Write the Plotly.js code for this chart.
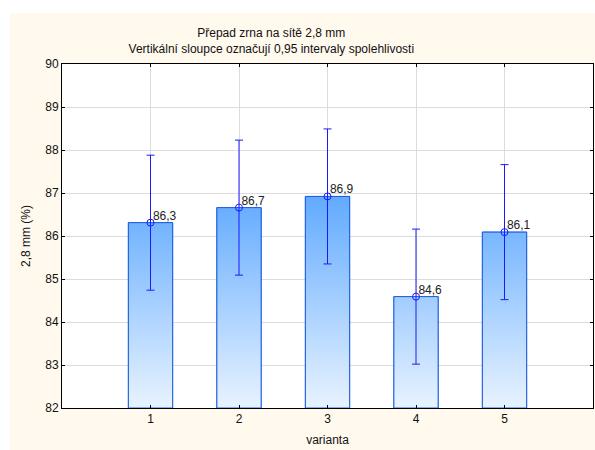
<!DOCTYPE html>
<html>
<head>
<meta charset="utf-8">
<script src="https://cdn.plot.ly/plotly-3.0.1.min.js"></script>
<style>html,body{margin:0;padding:0;background:#fff;}#chart{width:595px;height:450px;}</style>
</head>
<body>
<div id="chart"></div>
<script>
const categories = [1, 2, 3, 4, 5];
const tickLabels = ["1", "2", "3", "4", "5"];
const means = [86.31, 86.66, 86.92, 84.59, 86.09];
const ciHalf = [1.57, 1.57, 1.57, 1.57, 1.57];
const yBase = 82;

const barHalfWidth = 0.25;
// gradient-filled bar bodies built from the data values
const polyX = [], polyY = [];
categories.forEach((c, i) => {
  polyX.push(c - barHalfWidth, c + barHalfWidth, c + barHalfWidth, c - barHalfWidth, c - barHalfWidth, null);
  polyY.push(yBase, yBase, means[i], means[i], yBase, null);
});

const traces = [
  {
    type: 'bar', x: categories, y: means.map(v => v - yBase), base: yBase,
    width: 2 * barHalfWidth,
    marker: {color: '#8cc4ff', line: {color: '#1f5fe0', width: 1}},
    hoverinfo: 'skip', showlegend: false
  },
  {
    type: 'scatter', mode: 'lines', x: polyX, y: polyY,
    fill: 'toself',
    fillgradient: {type: 'vertical', start: 82, stop: 87.2,
      colorscale: [[0, '#e8f3ff'], [1, '#5aa6ff']]},
    line: {color: '#1f5fe0', width: 1},
    hoverinfo: 'skip', showlegend: false
  },
  {
    type: 'scatter', mode: 'markers', x: categories, y: means,
    error_y: {type: 'data', array: ciHalf, visible: true, color: '#1a1aff', thickness: 1, width: 4},
    marker: {symbol: 'circle-open', size: 7, color: '#1a1aff', line: {width: 1, color: '#1a1aff'}},
    showlegend: false
  },
  {
    type: 'scatter', mode: 'text', x: categories, y: means,
    text: means.map(v => '\u2009' + v.toFixed(1).replace('.', ',')),
    textposition: 'top right',
    textfont: {family: 'Liberation Sans, Arial, sans-serif', size: 12, color: '#222'},
    hoverinfo: 'skip', showlegend: false
  }
];

const layout = {
  width: 595, height: 450,
  margin: {l: 62, r: 2, t: 64, b: 42},
  paper_bgcolor: '#ffffff',
  plot_bgcolor: 'rgba(0,0,0,0)',
  font: {family: 'Liberation Sans, Arial, sans-serif', size: 12, color: '#111'},
  title: {
    text: 'Přepad zrna na sítě 2,8 mm<br>Vertikální sloupce označují 0,95 intervaly spolehlivosti',
    font: {size: 12, color: '#111'},
    xref: 'container', yref: 'container', x: 0.456, xanchor: 'center',
    y: 0.918, yanchor: 'middle'
  },
  xaxis: {
    range: [0, 6], tickmode: 'array', tickvals: categories, ticktext: tickLabels,
    ticks: 'inside', ticklen: 3, tickcolor: '#000',
    showline: true, linecolor: '#000', linewidth: 1, mirror: 'ticks',
    showgrid: true, gridcolor: '#dcdcdc', zeroline: false,
    title: {text: 'varianta', standoff: 10, font: {size: 12}}
  },
  yaxis: {
    range: [82, 90], dtick: 1, tick0: 82,
    ticks: 'inside', ticklen: 3, tickcolor: '#000',
    showline: true, linecolor: '#000', linewidth: 1, mirror: 'ticks',
    showgrid: true, gridcolor: '#dcdcdc', zeroline: false,
    title: {text: '2,8 mm (%)', standoff: 12, font: {size: 12}}
  },
  shapes: [
    {type: 'rect', xref: 'paper', yref: 'paper', layer: 'below',
     x0: -0.0979, x1: 1.01, y0: -0.13, y1: 1.1483,
     fillcolor: '#fff9ee', line: {width: 0}},
    {type: 'rect', xref: 'paper', yref: 'paper', layer: 'below',
     x0: 0, x1: 1, y0: 0, y1: 1,
     fillcolor: '#ffffff', line: {width: 0}}
  ],
  bargap: 0.5
};

Plotly.newPlot('chart', traces, layout, {displayModeBar: false, staticPlot: true});
</script>
</body>
</html>
